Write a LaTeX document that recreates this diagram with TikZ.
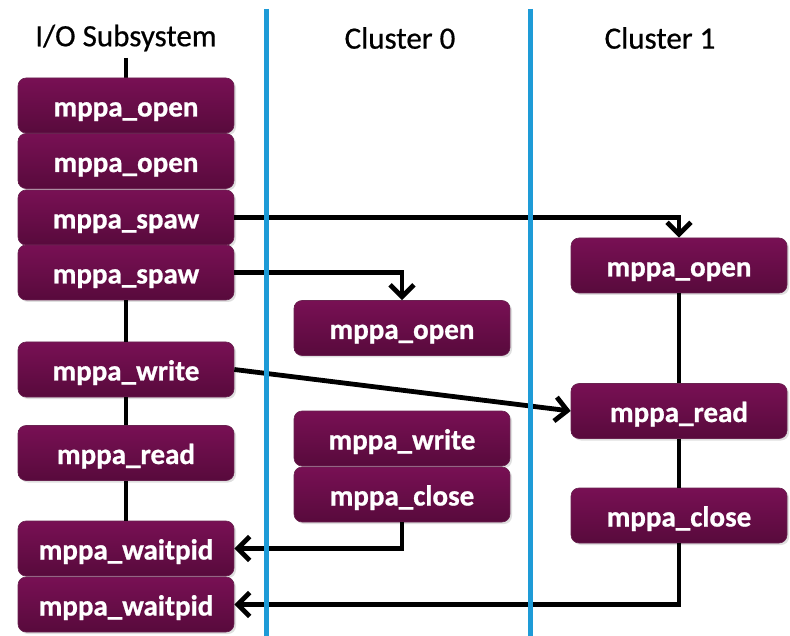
\documentclass[tikz,border=0pt]{standalone}
\usepackage{fontspec}
\setmainfont{Carlito}
\newfontfamily\boxfont{Carlito}[BoldFeatures={FakeBold=0.8}]
\newfontfamily\ttlfont{Carlito}[FakeBold=0.6]
\usetikzlibrary{arrows.meta,shadows}
\definecolor{boxtop}{RGB}{120,16,84}
\definecolor{boxbot}{RGB}{88,10,60}
\definecolor{lane}{RGB}{30,155,215}
\tikzset{
  fbox/.style={rectangle, rounded corners=8pt, minimum width=216pt, minimum height=55pt,
    inner sep=0pt, top color=boxtop, bottom color=boxbot, draw=boxbot!90!white, line width=0.6pt,
    text=white, font=\boxfont\fontsize{29}{32}\selectfont\bfseries,
    text height=28pt, text depth=6pt,
    drop shadow={opacity=0.25, shadow xshift=2pt, shadow yshift=-2pt}},
  ttl/.style={font=\ttlfont\fontsize{31}{34}\selectfont, inner sep=0pt},
  conn/.style={line width=4.8pt, black},
  arr/.style={conn, -{Straight Barb[length=12pt,width=24pt]}},
  lanel/.style={line width=4.6pt, lane}
}
\begin{document}
\begin{tikzpicture}[x=1pt,y=-1pt]
\useasboundingbox (0,0) rectangle (790,636);
% titles
\node[ttl] (tio) at (126,38) {I/O Subsystem};
\node[ttl] (tc0) at (400,38) {Cluster 0};
\node[ttl] (tc1) at (660,38) {Cluster 1};
\coordinate (tioc) at (126,58);
% connectors under boxes
\draw[conn] (tioc) -- (126,80);
% I/O column
\node[fbox] (lo1) at (126,105.5) {mppa\_open};
\node[fbox] (lo2) at (126,161) {mppa\_open};
\node[fbox] (ls1) at (126,217.5) {mppa\_spaw};
\node[fbox] (ls2) at (126,272.5) {mppa\_spaw};
\node[fbox] (lw) at (126,369.5) {mppa\_write};
\node[fbox] (lr) at (126,453) {mppa\_read};
\node[fbox] (lwp1) at (126,548.5) {mppa\_waitpid};
\node[fbox] (lwp2) at (126,604.5) {mppa\_waitpid};
% Cluster 0
\node[fbox] (c0o) at (402,328) {mppa\_open};
\node[fbox] (c0w) at (402,438.5) {mppa\_write};
\node[fbox] (c0c) at (402,494.5) {mppa\_close};
% Cluster 1
\node[fbox] (c1o) at (679,265.5) {mppa\_open};
\node[fbox] (c1r) at (679,411) {mppa\_read};
\node[fbox] (c1c) at (679,515.5) {mppa\_close};
% plain connectors
\draw[conn] (ls2.south) -- (lw.north);
\draw[conn] (lw.south) -- (lr.north);
\draw[conn] (lr.south) -- (lwp1.north);
\draw[conn] (c1o.south) -- (c1r.north);
\draw[conn] (c1r.south) -- (c1c.north);
% arrows
\draw[arr] (ls1.east) -| (c1o.north);
\draw[arr] (ls2.east) -| (c0o.north);
\draw[arr] (lw.east) -- (c1r.west);
\draw[arr] (c0c.south) |- (lwp1.east);
\draw[arr] (c1c.south) |- (lwp2.east);
% lanes
\coordinate (l1t) at (266.5,9);
\coordinate (l1b) at (266.5,636);
\coordinate (l2t) at (530.5,9);
\coordinate (l2b) at (530.5,636);
\draw[lanel] (l1t) -- (l1b);
\draw[lanel] (l2t) -- (l2b);
\end{tikzpicture}
\end{document}
